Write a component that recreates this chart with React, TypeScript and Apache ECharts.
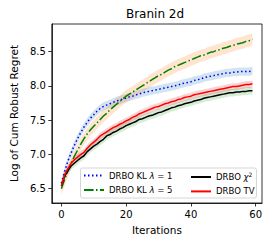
import React, { useEffect, useRef } from "react";
import * as echarts from "echarts";

const iterations = Array.from({ length: 60 }, (_, i) => i);

const klLambda1 = [
  6.58, 6.75, 6.9, 7.02, 7.13, 7.23, 7.32, 7.4, 7.47, 7.53,
  7.58, 7.63, 7.67, 7.7, 7.72, 7.74, 7.76, 7.78, 7.79, 7.81,
  7.82, 7.84, 7.85, 7.87, 7.88, 7.9, 7.91, 7.92, 7.93, 7.94,
  7.95, 7.96, 7.97, 7.98, 7.99, 8.0, 8.01, 8.03, 8.04, 8.05,
  8.06, 8.08, 8.09, 8.1, 8.12, 8.13, 8.14, 8.15, 8.16, 8.17,
  8.18, 8.19, 8.19, 8.2, 8.2, 8.21, 8.21, 8.21, 8.21, 8.22,
];

const klLambda5 = [
  6.5, 6.63, 6.76, 6.87, 6.97, 7.06, 7.15, 7.23, 7.3, 7.36,
  7.41, 7.46, 7.51, 7.56, 7.6, 7.65, 7.69, 7.73, 7.77, 7.81,
  7.85, 7.88, 7.91, 7.94, 7.97, 8.0, 8.03, 8.06, 8.09, 8.12,
  8.15, 8.17, 8.2, 8.23, 8.25, 8.28, 8.3, 8.32, 8.34, 8.36,
  8.38, 8.4, 8.42, 8.44, 8.45, 8.47, 8.49, 8.5, 8.52, 8.53,
  8.55, 8.56, 8.58, 8.59, 8.61, 8.62, 8.63, 8.65, 8.66, 8.68,
];

const chiSquare = [
  6.54, 6.68, 6.76, 6.83, 6.87, 6.91, 6.95, 6.98, 7.04, 7.08,
  7.12, 7.15, 7.19, 7.22, 7.27, 7.29, 7.32, 7.34, 7.37, 7.39,
  7.42, 7.44, 7.46, 7.48, 7.51, 7.52, 7.54, 7.56, 7.57, 7.59,
  7.61, 7.62, 7.64, 7.66, 7.68, 7.69, 7.71, 7.72, 7.74, 7.75,
  7.76, 7.78, 7.79, 7.8, 7.82, 7.83, 7.84, 7.85, 7.86, 7.87,
  7.88, 7.89, 7.9, 7.9, 7.91, 7.91, 7.92, 7.92, 7.93, 7.93,
];

const totalVariation = [
  6.54, 6.7, 6.79, 6.87, 6.92, 6.96, 7.0, 7.03, 7.09, 7.14,
  7.18, 7.22, 7.27, 7.3, 7.33, 7.36, 7.39, 7.41, 7.44, 7.46,
  7.49, 7.51, 7.54, 7.56, 7.59, 7.61, 7.63, 7.65, 7.67, 7.69,
  7.7, 7.72, 7.74, 7.75, 7.77, 7.78, 7.8, 7.81, 7.83, 7.84,
  7.85, 7.87, 7.88, 7.89, 7.9, 7.91, 7.92, 7.93, 7.94, 7.95,
  7.96, 7.97, 7.98, 7.99, 7.99, 8.0, 8.01, 8.02, 8.02, 8.03,
];

// half-widths of the shaded bands
const spreadKL1 = 0.06;
const spreadKL5 = 0.09;
const spreadChi = 0.055;
const spreadTV = 0.05;

const xTicks = [0, 20, 40, 60];
const yTicks = [6.5, 7.0, 7.5, 8.0, 8.5];

const NAME_KL1 = "DRBO KL λ = 1";
const NAME_KL5 = "DRBO KL λ = 5";
const NAME_CHI = "DRBO χ2";
const NAME_TV = "DRBO TV";

const FONT = "DejaVu Sans";

function bandSeries(id: string, vals: number[], w: number, color: string) {
  return {
    type: "custom",
    id,
    silent: true,
    z: 1,
    clip: true,
    data: vals.map((v, i) => [iterations[i], v]),
    renderItem: (params: any, api: any) => {
      if (params.dataIndex !== 0) return null;
      const upper = vals.map((v, i) => api.coord([iterations[i], v + w]));
      const lower = vals
        .map((v, i) => api.coord([iterations[i], v - w]))
        .reverse();
      return {
        type: "polygon",
        shape: { points: upper.concat(lower) },
        style: { fill: color },
      };
    },
  };
}

function lineSeries(name: string, vals: number[], color: string, type: any, z: number) {
  return {
    type: "line",
    name,
    z,
    symbol: "none",
    data: vals.map((v, i) => [iterations[i], v]),
    lineStyle: { color, width: 1.5, type, cap: "butt" },
    itemStyle: { color },
  };
}

const legendRich = {
  i: { fontStyle: "italic", fontSize: 8.5, fontFamily: FONT, color: "#000" },
  sup: { fontSize: 6, fontFamily: FONT, color: "#000", padding: [0, 0, 6, 0] },
  n: { fontSize: 8.5, fontFamily: FONT, color: "#000" },
};

function legendFormatter(name: string) {
  if (name === NAME_KL1) return "{n|DRBO KL }{i|λ}{n| = 1}";
  if (name === NAME_KL5) return "{n|DRBO KL }{i|λ}{n| = 5}";
  if (name === NAME_CHI) return "{n|DRBO }{i|χ}{sup|2}";
  return "{n|" + name + "}";
}

const legendBase = {
  z: 6,
  top: 171,
  orient: "vertical",
  padding: 0,
  itemGap: 5.4,
  itemWidth: 20,
  itemHeight: 8,
  itemStyle: { opacity: 0 },
  formatter: legendFormatter,
  textStyle: { rich: legendRich, fontFamily: FONT, fontSize: 8.5 },
};

export default function App() {
  const ref = useRef<HTMLDivElement>(null);
  useEffect(() => {
    document.body.style.margin = "0";
    const chart = echarts.init(ref.current!, null, { renderer: "svg" });
    chart.setOption({
      animation: false,
      backgroundColor: "#fff",
      grid: { left: 48, right: 8, top: 24, bottom: 41, show: true, borderColor: "#000", borderWidth: 0.8, backgroundColor: "transparent" },
      xAxis: {
        type: "value",
        min: -2.95,
        max: 61.95,
        name: "Iterations",
        nameLocation: "middle",
        nameGap: 21,
        nameTextStyle: { fontFamily: FONT, fontSize: 10.5, color: "#000" },
        axisLine: { show: true, onZero: false, lineStyle: { color: "#000", width: 0.8 } },
        axisTick: { show: true, length: 3.5, customValues: xTicks, lineStyle: { color: "#000", width: 0.8 } },
        axisLabel: { customValues: xTicks, margin: 6, fontFamily: FONT, fontSize: 10, color: "#000" },
        splitLine: { show: false },
      },
      yAxis: {
        type: "value",
        min: 6.29,
        max: 8.904,
        name: "Log of Cum Robust Regret",
        nameLocation: "middle",
        nameRotate: 90,
        nameGap: 31,
        nameTextStyle: { fontFamily: FONT, fontSize: 10.5, color: "#000" },
        axisLine: { show: true, onZero: false, lineStyle: { color: "#000", width: 0.8 } },
        axisTick: { show: true, length: 3.5, customValues: yTicks, lineStyle: { color: "#000", width: 0.8 } },
        axisLabel: {
          customValues: yTicks,
          margin: 6,
          fontFamily: FONT,
          fontSize: 10,
          color: "#000",
          formatter: (v: number) => v.toFixed(1),
        },
        splitLine: { show: false },
      },
      graphic: [
        {
          type: "text",
          x: 155,
          y: 14,
          style: { text: "Branin 2d", fontFamily: FONT, fontSize: 12, fill: "#000", align: "center", verticalAlign: "middle" },
        },
        {
          type: "rect",
          z: 4,
          shape: { x: 80.5, y: 168, width: 176, height: 30, r: 2 },
          style: { fill: "rgba(255,255,255,0.8)", stroke: "#cccccc", lineWidth: 0.8 },
        },
      ],
      legend: [
        { ...legendBase, left: 83, data: [NAME_KL1, NAME_KL5] },
        { ...legendBase, left: 190, data: [NAME_CHI, NAME_TV] },
      ],
      series: [
        bandSeries("bandKL1", klLambda1, spreadKL1, "rgba(31,119,180,0.2)"),
        bandSeries("bandKL5", klLambda5, spreadKL5, "rgba(255,127,14,0.2)"),
        bandSeries("bandChi", chiSquare, spreadChi, "rgba(44,160,44,0.2)"),
        bandSeries("bandTV", totalVariation, spreadTV, "rgba(214,39,40,0.2)"),
        lineSeries(NAME_KL1, klLambda1, "#0000ff", [1.5, 2.5], 3),
        lineSeries(NAME_KL5, klLambda5, "#008000", [9.6, 2.4, 1.5, 2.4], 3),
        lineSeries(NAME_CHI, chiSquare, "#000000", "solid", 3),
        lineSeries(NAME_TV, totalVariation, "#ff0000", "solid", 3),
      ],
    });
    return () => chart.dispose();
  }, []);
  return <div ref={ref} style={{ width: 270, height: 244 }} />;
}
